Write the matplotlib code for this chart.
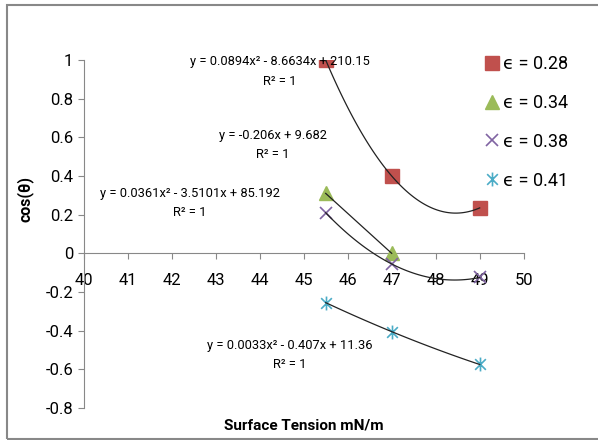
import numpy as np
import matplotlib.pyplot as plt
from matplotlib.path import Path
from matplotlib.patches import Rectangle

plt.rcParams['font.family'] = ['Roboto', 'DejaVu Sans']

# data
x_a = [45.5, 47, 49]
y_028 = [1.0, 0.40, 0.235]
x_b = [45.5, 47]
y_034 = [0.31, 0.0]
y_038 = [0.21, -0.055, -0.125]
y_041 = [-0.255, -0.405, -0.575]

labels = ['ϵ = 0.28', 'ϵ = 0.34', 'ϵ = 0.38', 'ϵ = 0.41']
equations = ['y = 0.0894x² - 8.6634x + 210.15', 'y = -0.206x + 9.682',
             'y = 0.0361x² - 3.5101x + 85.192', 'y = 0.0033x² - 0.407x + 11.36']
eq_pos = [(44.46, 0.99), (44.30, 0.61), (42.42, 0.31), (44.69, -0.477)]

# excel style star marker: X with a vertical bar
star = Path([(-1, -1), (1, 1), (-1, 1), (1, -1), (0, -1.3), (0, 1.3)],
            [Path.MOVETO, Path.LINETO, Path.MOVETO, Path.LINETO, Path.MOVETO, Path.LINETO])

fig = plt.figure(figsize=(5.98, 4.40), dpi=100)
ax = fig.add_axes([83.7 / 598, 1 - 408 / 440, 440 / 598, 348 / 440])

series = [
    (x_a, y_028, 2, dict(marker='s', color='#C0504D', ms=10.5, ls='none')),
    (x_b, y_034, 1, dict(marker='^', color='#9BBB59', ms=9.5, ls='none')),
    (x_a, y_038, 2, dict(marker='x', color='#8064A2', ms=9, mew=1.2, ls='none')),
    (x_a, y_041, 2, dict(marker=star, color='#4BACC6', ms=10, mew=1.2, ls='none')),
]
for (xs, ys, deg, style), lab in zip(series, labels):
    ax.plot(xs, ys, label=lab, zorder=3, **style)
    coef = np.polyfit(xs, ys, deg)
    xx = np.linspace(min(xs), max(xs), 100)
    ax.plot(xx, np.polyval(coef, xx), color='#222222', lw=0.9, zorder=4)

for txt, (px, py) in zip(equations, eq_pos):
    ax.text(px, py, txt, ha='center', va='center', fontsize=9.3)
    ax.text(px, py - 0.1, 'R² = 1', ha='center', va='center', fontsize=9.3)

ax.set_xlim(40, 50)
ax.set_ylim(-0.8, 1)
ax.set_xticks(np.arange(40, 51, 1))
ax.set_yticks(np.arange(-0.8, 1.01, 0.2))
ax.set_yticklabels(['-0.8', '-0.6', '-0.4', '-0.2', '0', '0.2', '0.4', '0.6', '0.8', '1'])

for s in ['top', 'right']:
    ax.spines[s].set_visible(False)
ax.spines['bottom'].set_position(('data', 0))
for s in ['left', 'bottom']:
    ax.spines[s].set_color('#888888')
ax.tick_params(axis='both', colors='#888888', labelcolor='black', labelsize=12, length=4)
ax.tick_params(axis='x', pad=10)
ax.patch.set_visible(False)

ax.set_xlabel('Surface Tension mN/m', fontsize=11, fontweight='bold')
ax.xaxis.set_label_coords(0.5, -0.03)
ax.set_ylabel('cos(θ)', fontsize=11.5, fontweight='bold')
ax.yaxis.set_label_coords(-0.115, 0.6)

ax.legend(loc='upper left', bbox_to_anchor=(476 / 598, 1 - 48 / 440), bbox_transform=fig.transFigure,
          frameon=False, fontsize=13, handletextpad=0.1, labelspacing=1.15, handlelength=1.0,
          borderaxespad=0)

fig.patches.append(Rectangle((7 / 598, 1 / 440), 1.1, 434 / 440, transform=fig.transFigure,
                             fill=False, edgecolor='#888888', lw=1.5))

fig.savefig('out.png', dpi=100)
